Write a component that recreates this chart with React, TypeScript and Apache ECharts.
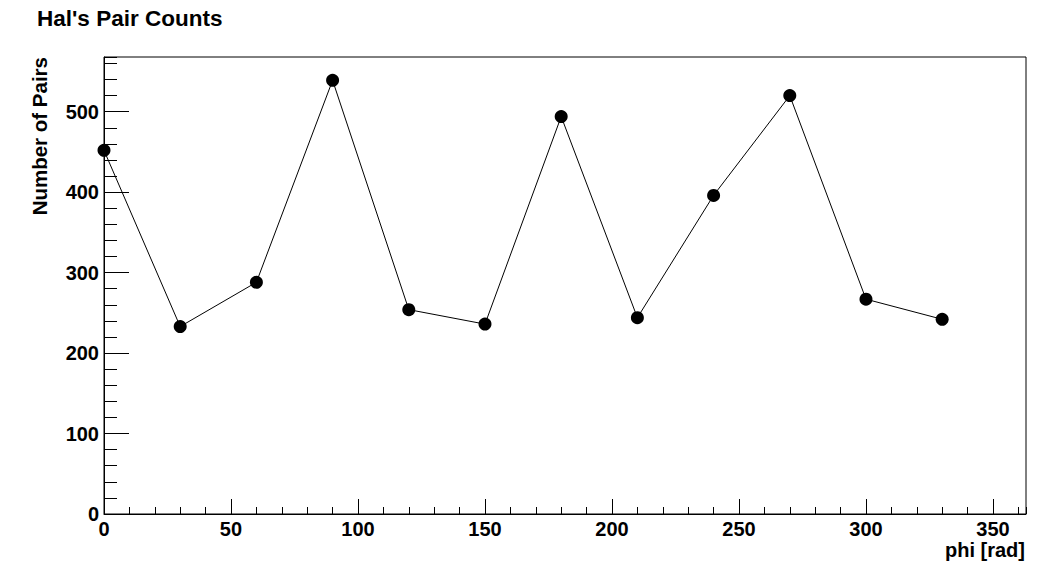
import React, { useEffect, useRef } from "react";
import * as echarts from "echarts";

const phiValues = [0, 30, 60, 90, 120, 150, 180, 210, 240, 270, 300, 330];
const pairCounts = [452, 233, 288, 539, 254, 236, 494, 244, 396, 520, 267, 242];
const xRange = [0, 363];
const yRange = [0, 568];

const FONT = "Liberation Sans, Arial, Helvetica, sans-serif";

export default function App() {
  const ref = useRef<HTMLDivElement>(null);
  useEffect(() => {
    if (!ref.current) return;
    const chart = echarts.init(ref.current, undefined, { renderer: "svg" });
    const data = phiValues.map((x, i) => [x, pairCounts[i]]);
    const labelStyle = { color: "#000", fontFamily: FONT, fontWeight: "bold" as const, fontSize: 20 };
    chart.setOption({
      animation: false,
      backgroundColor: "#fff",
      title: {
        text: "Hal's Pair Counts",
        left: 37,
        top: 7,
        padding: 0,
        textStyle: { color: "#000", fontFamily: FONT, fontWeight: "bold", fontSize: 22.5 },
      },
      grid: {
        left: 104,
        top: 57,
        right: 20,
        bottom: 58,
        show: true,
        borderColor: "#000",
        borderWidth: 1,
        backgroundColor: "transparent",
      },
      xAxis: [
        {
          type: "value",
          min: xRange[0],
          max: xRange[1],
          interval: 50,
          axisLine: { show: true, lineStyle: { color: "#000", width: 1 } },
          axisTick: { show: true, inside: true, length: 15, lineStyle: { color: "#000" } },
          axisLabel: { ...labelStyle, margin: 5, showMaxLabel: false },
          splitLine: { show: false },
        },
        {
          type: "value",
          position: "bottom",
          min: xRange[0],
          max: xRange[1],
          interval: 10,
          axisLine: { show: false },
          axisTick: { show: true, inside: true, length: 7, lineStyle: { color: "#000" } },
          axisLabel: { show: false },
          splitLine: { show: false },
        },
      ],
      yAxis: [
        {
          type: "value",
          min: yRange[0],
          max: yRange[1],
          interval: 100,
          axisLine: { show: true, lineStyle: { color: "#000", width: 1 } },
          axisTick: { show: true, inside: true, length: 25, lineStyle: { color: "#000" } },
          axisLabel: { ...labelStyle, margin: 5, showMaxLabel: false },
          splitLine: { show: false },
        },
        {
          type: "value",
          position: "left",
          min: yRange[0],
          max: yRange[1],
          interval: 20,
          axisLine: { show: false },
          axisTick: { show: true, inside: true, length: 13, lineStyle: { color: "#000" } },
          axisLabel: { show: false },
          splitLine: { show: false },
        },
      ],
      graphic: [
        {
          type: "text",
          right: 21,
          top: 540,
          style: { text: "phi [rad]", fill: "#000", font: `bold 20px ${FONT}` },
        },
        {
          type: "text",
          x: 39,
          y: 57,
          rotation: Math.PI / 2,
          style: {
            text: "Number of Pairs",
            fill: "#000",
            font: `bold 20.5px ${FONT}`,
            align: "right",
            verticalAlign: "middle",
          },
        },
      ],
      series: [
        {
          type: "line",
          xAxisIndex: 0,
          yAxisIndex: 0,
          data,
          symbol: "circle",
          symbolSize: 13,
          itemStyle: { color: "#000" },
          lineStyle: { color: "#000", width: 1 },
        },
      ],
    });
    return () => chart.dispose();
  }, []);
  return (
    <div
      ref={ref}
      style={{ position: "fixed", left: 0, top: 0, width: 1046, height: 572 }}
    />
  );
}
